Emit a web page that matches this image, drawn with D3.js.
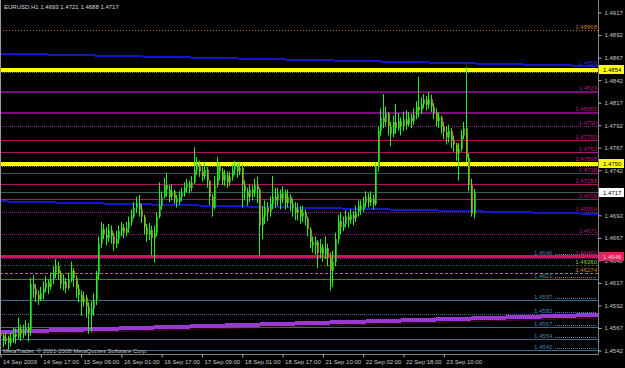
<!DOCTYPE html>
<html>
<head>
<meta charset="utf-8">
<script src="https://cdn.jsdelivr.net/npm/d3@7"></script>
<style>
body { margin: 0; background: #000; }
svg { display: block; }
text { font-family: "Liberation Sans", Arial, sans-serif; font-size: 6px; }
</style>
</head>
<body>
<script>
// EURUSD H1 bars (index 0 = 14 Sep 2009 00:00)
const opens = [1.4560,1.4558,1.4552,1.4556,1.4550,1.4555,1.4560,1.4557,1.4566,1.4560,1.4563,1.4567,1.4562,1.4615,1.4610,1.4603,1.4598,1.4605,1.4610,1.4617,
  1.4612,1.4620,1.4628,1.4635,1.4627,1.4615,1.4618,1.4611,1.4620,1.4630,1.4622,1.4610,1.4603,1.4595,1.4600,1.4590,1.4582,1.4588,1.4598,1.4625,
  1.4660,1.4676,1.4670,1.4666,1.4675,1.4668,1.4660,1.4665,1.4674,1.4678,1.4672,1.4677,1.4684,1.4690,1.4700,1.4705,1.4698,1.4690,1.4678,1.4670,
  1.4675,1.4666,1.4672,1.4690,1.4702,1.4712,1.4725,1.4720,1.4712,1.4718,1.4710,1.4706,1.4712,1.4716,1.4722,1.4727,1.4722,1.4728,1.4742,1.4748,
  1.4740,1.4735,1.4742,1.4730,1.4712,1.4700,1.4725,1.4745,1.4740,1.4730,1.4736,1.4728,1.4734,1.4742,1.4746,1.4740,1.4744,1.4725,1.4718,1.4712,
  1.4720,1.4716,1.4725,1.4720,1.4680,1.4690,1.4700,1.4695,1.4704,1.4712,1.4708,1.4715,1.4710,1.4716,1.4705,1.4712,1.4704,1.4700,1.4694,1.4698,
  1.4690,1.4695,1.4688,1.4676,1.4662,1.4658,1.4662,1.4650,1.4656,1.4648,1.4655,1.4645,1.4630,1.4640,1.4665,1.4685,1.4678,1.4682,1.4690,1.4686,
  1.4692,1.4688,1.4695,1.4702,1.4698,1.4705,1.4712,1.4706,1.4710,1.4704,1.4745,1.4785,1.4800,1.4795,1.4805,1.4790,1.4782,1.4795,1.4788,1.4796,
  1.4790,1.4798,1.4792,1.4800,1.4796,1.4803,1.4812,1.4808,1.4815,1.4820,1.4814,1.4820,1.4812,1.4805,1.4796,1.4800,1.4790,1.4784,1.4778,1.4785,
  1.4775,1.4770,1.4760,1.4765,1.4780,1.4788,1.4755,1.4725,1.4693];
const highs = [1.4565,1.4560,1.4562,1.4558,1.4561,1.4567,1.4566,1.4578,1.4570,1.4570,1.4575,1.4572,1.4622,1.4625,1.4615,1.4608,1.4612,1.4618,1.4624,1.4620,
  1.4628,1.4635,1.4643,1.4640,1.4630,1.4626,1.4622,1.4628,1.4640,1.4633,1.4625,1.4615,1.4608,1.4607,1.4603,1.4595,1.4596,1.4605,1.4630,1.4668,
  1.4684,1.4682,1.4678,1.4682,1.4680,1.4672,1.4674,1.4680,1.4684,1.4682,1.4684,1.4690,1.4698,1.4706,1.4712,1.4714,1.4704,1.4692,1.4682,1.4683,
  1.4680,1.4680,1.4695,1.4728,1.4718,1.4733,1.4738,1.4725,1.4726,1.4720,1.4714,1.4718,1.4722,1.4728,1.4732,1.4730,1.4735,1.4767,1.4756,1.4752,
  1.4745,1.4750,1.4745,1.4730,1.4715,1.4735,1.4756,1.4750,1.4744,1.4742,1.4740,1.4740,1.4748,1.4752,1.4750,1.4750,1.4748,1.4730,1.4722,1.4726,
  1.4725,1.4732,1.4734,1.4722,1.4702,1.4708,1.4706,1.4712,1.4735,1.4722,1.4722,1.4720,1.4724,1.4720,1.4720,1.4715,1.4710,1.4706,1.4705,1.4702,
  1.4702,1.4698,1.4690,1.4678,1.4668,1.4668,1.4664,1.4665,1.4660,1.4668,1.4660,1.4650,1.4652,1.4672,1.4692,1.4695,1.4690,1.4697,1.4695,1.4698,
  1.4696,1.4702,1.4708,1.4708,1.4712,1.4718,1.4716,1.4718,1.4714,1.4750,1.4790,1.4810,1.4826,1.4812,1.4806,1.4795,1.4802,1.4815,1.4805,1.4800,
  1.4806,1.4808,1.4806,1.4804,1.4810,1.4818,1.4845,1.4822,1.4826,1.4824,1.4828,1.4825,1.4816,1.4810,1.4806,1.4802,1.4795,1.4790,1.4792,1.4788,
  1.4780,1.4772,1.4772,1.4786,1.4795,1.4856,1.4760,1.4732,1.4721];
const lows = [1.4548,1.4545,1.4548,1.4542,1.4546,1.4550,1.4549,1.4554,1.4552,1.4555,1.4558,1.4551,1.4558,1.4600,1.4595,1.4592,1.4596,1.4598,1.4606,1.4604,
  1.4609,1.4615,1.4622,1.4620,1.4610,1.4608,1.4605,1.4609,1.4617,1.4612,1.4600,1.4595,1.4580,1.4590,1.4578,1.4560,1.4562,1.4580,1.4592,1.4620,
  1.4655,1.4665,1.4658,1.4662,1.4660,1.4652,1.4655,1.4660,1.4668,1.4666,1.4668,1.4672,1.4680,1.4688,1.4694,1.4690,1.4683,1.4670,1.4662,1.4664,
  1.4647,1.4639,1.4668,1.4688,1.4698,1.4710,1.4712,1.4706,1.4708,1.4704,1.4700,1.4703,1.4707,1.4712,1.4717,1.4716,1.4718,1.4726,1.4736,1.4734,
  1.4729,1.4731,1.4722,1.4703,1.4690,1.4698,1.4722,1.4730,1.4725,1.4724,1.4722,1.4724,1.4730,1.4736,1.4733,1.4736,1.4700,1.4708,1.4702,1.4706,
  1.4708,1.4712,1.4705,1.4647,1.4665,1.4682,1.4685,1.4690,1.4698,1.4700,1.4702,1.4698,1.4705,1.4698,1.4700,1.4696,1.4690,1.4686,1.4686,1.4682,
  1.4684,1.4680,1.4668,1.4655,1.4650,1.4648,1.4633,1.4644,1.4640,1.4643,1.4635,1.4608,1.4612,1.4635,1.4660,1.4670,1.4674,1.4678,1.4678,1.4682,
  1.4680,1.4684,1.4690,1.4692,1.4695,1.4700,1.4700,1.4702,1.4698,1.4702,1.4740,1.4780,1.4788,1.4790,1.4780,1.4768,1.4778,1.4782,1.4785,1.4780,
  1.4785,1.4786,1.4790,1.4788,1.4792,1.4798,1.4800,1.4804,1.4810,1.4808,1.4810,1.4806,1.4798,1.4790,1.4788,1.4782,1.4776,1.4770,1.4772,1.4766,
  1.4762,1.4752,1.4730,1.4762,1.4776,1.4750,1.4718,1.4690,1.4688];
const closes = [1.4558,1.4552,1.4556,1.4550,1.4555,1.4560,1.4557,1.4566,1.4560,1.4563,1.4567,1.4562,1.4615,1.4610,1.4603,1.4598,1.4605,1.4610,1.4617,1.4612,
  1.4620,1.4628,1.4635,1.4627,1.4615,1.4618,1.4611,1.4620,1.4630,1.4622,1.4610,1.4603,1.4595,1.4600,1.4590,1.4582,1.4588,1.4598,1.4625,1.4660,
  1.4676,1.4670,1.4666,1.4675,1.4668,1.4660,1.4665,1.4674,1.4678,1.4672,1.4677,1.4684,1.4690,1.4700,1.4705,1.4698,1.4690,1.4678,1.4670,1.4675,
  1.4666,1.4672,1.4690,1.4702,1.4712,1.4725,1.4720,1.4712,1.4718,1.4710,1.4706,1.4712,1.4716,1.4722,1.4727,1.4722,1.4728,1.4742,1.4748,1.4740,
  1.4735,1.4742,1.4730,1.4712,1.4700,1.4725,1.4745,1.4740,1.4730,1.4736,1.4728,1.4734,1.4742,1.4746,1.4740,1.4744,1.4725,1.4718,1.4712,1.4720,
  1.4716,1.4725,1.4720,1.4680,1.4690,1.4700,1.4695,1.4704,1.4712,1.4708,1.4715,1.4710,1.4716,1.4705,1.4712,1.4704,1.4700,1.4694,1.4698,1.4690,
  1.4695,1.4688,1.4676,1.4662,1.4658,1.4662,1.4650,1.4656,1.4648,1.4655,1.4645,1.4630,1.4640,1.4665,1.4685,1.4678,1.4682,1.4690,1.4686,1.4692,
  1.4688,1.4695,1.4702,1.4698,1.4705,1.4712,1.4706,1.4710,1.4704,1.4745,1.4785,1.4800,1.4795,1.4805,1.4790,1.4782,1.4795,1.4788,1.4796,1.4790,
  1.4798,1.4792,1.4800,1.4796,1.4803,1.4812,1.4808,1.4815,1.4820,1.4814,1.4820,1.4812,1.4805,1.4796,1.4800,1.4790,1.4784,1.4778,1.4785,1.4775,
  1.4770,1.4760,1.4765,1.4780,1.4788,1.4755,1.4725,1.4693,1.4717];

// time axis
const timeTickIdx = [0, 16, 32, 48, 64, 80, 96, 112, 128, 144, 160, 176];
const timeTickText = ["14 Sep 2009", "14 Sep 17:00", "15 Sep 09:00", "16 Sep 01:00", "16 Sep 17:00", "17 Sep 09:00",
  "18 Sep 01:00", "18 Sep 17:00", "21 Sep 10:00", "22 Sep 02:00", "22 Sep 18:00", "23 Sep 10:00"];

// price axis
const priceTicks = [1.4917, 1.4892, 1.4867, 1.4842, 1.4817, 1.4792, 1.4767, 1.4742, 1.4717,
  1.4692, 1.4667, 1.4642, 1.4617, 1.4592, 1.4567, 1.4542];

// horizontal levels, by group
const purpleLevels = [1.4829, 1.48055];
const purpleLabels = ["1.4829", "1.48055"];
const purpleDotLevels = [1.4790, 1.46954, 1.4671];
const purpleDotLabels = ["1.4790", "1.46954", "1.4671"];
const magentaLevels = [1.47750, 1.4762, 1.47506, 1.4738, 1.47258, 1.4709];
const magentaLabels = ["1.47750", "1.4762", "1.47506", "1.4738", "1.47258", "1.4709"];
const steelLevels = [1.4646, 1.4621, 1.4597, 1.4567, 1.4554, 1.4542];
const steelDotLevels = [1.4582];
const yellowLevels = [1.4854, 1.4750];
const pivotLevel = 1.4646, pivotLabel = "1.46460";
const greenLevel = 1.46360, greenLabel = "1.46360";
const orangeDashLevel = 1.46274, orangeDashLabel = "1.46274";
const orangeTopLevel = 1.48968, orangeTopLabel = "1.48968";
const lastPrice = 1.4717;

// trend lines: [bar index, price] end points
const blueUpper = [[-1, 1.4871], [238, 1.4857]];
const blueLower = [[-1, 1.4707], [238, 1.4693]];
const violetRising = [[-1, 1.4562], [238, 1.4581]];

const title = "EURUSD,H1  1.4693 1.4721 1.4688 1.4717";
const watermark = "MetaTrader, \u00a9 2001-2008 MetaQuotes Software Corp.";

const width = 625, height = 368;
const plotRight = 598, plotBottom = 354;

const x = d3.scaleLinear().domain([0, 176]).range([0, 443.3]);
const y = d3.scaleLinear().domain([1.4542, 1.4917]).range([350, 12]);
const fmt = d3.format(".4f");

const svg = d3.select("body").append("svg")
    .attr("width", width)
    .attr("height", height);

svg.append("rect").attr("width", width).attr("height", height).attr("fill", "#000");

svg.append("clipPath").attr("id", "plot")
  .append("rect").attr("x", 0).attr("y", 0).attr("width", plotRight).attr("height", plotBottom);

const plot = svg.append("g").attr("clip-path", "url(#plot)");
const py = p => Math.round(y(p)) + 0.5;

function hline(p, color, w, dash) {
    plot.append("line")
        .attr("x1", 0).attr("x2", plotRight)
        .attr("y1", py(p)).attr("y2", py(p))
        .attr("stroke", color)
        .attr("stroke-width", w)
        .attr("stroke-dasharray", dash || null)
        .attr("shape-rendering", "crispEdges");
}
function rightLabel(p, txt, color) {
    plot.append("text")
        .attr("x", 597).attr("y", py(p) - 2)
        .attr("text-anchor", "end")
        .attr("fill", color)
        .text(txt);
}
function leftLabel(p, color) {
    plot.append("text")
        .attr("x", 534).attr("y", py(p) - 1.5)
        .attr("fill", color)
        .text(fmt(p));
    plot.append("line")
        .attr("x1", 555).attr("x2", 597)
        .attr("y1", py(p) - 2).attr("y2", py(p) - 2)
        .attr("stroke", color).attr("stroke-width", 1)
        .attr("stroke-dasharray", "1,1");
}

// top orange level
hline(orangeTopLevel, "#b8741c", 1, "1,2");
rightLabel(orangeTopLevel, orangeTopLabel, "#c07a20");

// purple / magenta levels
purpleLevels.forEach((p, i) => { hline(p, "#7c0c7c", 2); rightLabel(p, purpleLabels[i], "#b0147a"); });
purpleDotLevels.forEach((p, i) => { hline(p, "#8c1c8c", 1, "1,1"); rightLabel(p, purpleDotLabels[i], "#b0147a"); });
magentaLevels.forEach((p, i) => { hline(p, "#b0106c", 1); rightLabel(p, magentaLabels[i], "#c01480"); });

// steel blue support levels
steelLevels.forEach(p => { hline(p, "#3a6c8e", 1); leftLabel(p, "#4a80aa"); });
steelDotLevels.forEach(p => { hline(p, "#3a6c8e", 1, "1,1"); leftLabel(p, "#4a80aa"); });

// other levels
hline(greenLevel, "#2e6a1e", 1, "2,2");
rightLabel(greenLevel, greenLabel, "#8ccc28");
hline(orangeDashLevel, "#c87800", 1, "3,2");
rightLabel(orangeDashLevel, orangeDashLabel, "#d08010");
hline(lastPrice, "#4a5656", 1);

plot.append("line")
    .attr("x1", 0).attr("x2", plotRight)
    .attr("y1", py(pivotLevel) + 2).attr("y2", py(pivotLevel) + 2)
    .attr("stroke", "#5a30a0").attr("stroke-dasharray", "1,1");
hline(pivotLevel, "#d0145a", 3);
rightLabel(pivotLevel, pivotLabel, "#c01480");

// trend lines
function trend(pts, color, w) {
    plot.append("line")
        .attr("x1", x(pts[0][0])).attr("y1", y(pts[0][1]))
        .attr("x2", x(pts[1][0])).attr("y2", y(pts[1][1]))
        .attr("stroke", color).attr("stroke-width", w)
        .attr("shape-rendering", "crispEdges");
}
trend(blueUpper, "#1414c8", 2);
plot.append("text").attr("x", 597).attr("y", y(1.4857) - 1)
    .attr("text-anchor", "end").attr("fill", "#2a2ad8").text("1.4856");
trend(blueLower, "#1414c8", 2);
plot.append("line")
    .attr("x1", x(violetRising[0][0])).attr("y1", y(violetRising[0][1]) + 3)
    .attr("x2", x(violetRising[1][0])).attr("y2", y(violetRising[1][1]) + 3)
    .attr("stroke", "#a01050").attr("stroke-dasharray", "1,1");
trend(violetRising, "#9a38d4", 4);

// yellow levels
yellowLevels.forEach(p => {
    plot.append("line")
        .attr("x1", 0).attr("x2", plotRight)
        .attr("y1", py(p) + 3).attr("y2", py(p) + 3)
        .attr("stroke", "#8a8a00").attr("stroke-dasharray", "1,1");
    hline(p, "#ffff00", 4);
});

// candles: coloured body, lime wick drawn over its left half
const bars = closes.map((c, i) => ({ i, o: opens[i], h: highs[i], l: lows[i], c }));
const candle = plot.append("g").selectAll("g")
    .data(bars)
    .join("g");

candle.append("rect")
    .attr("x", d => Math.round(x(d.i)))
    .attr("width", 2)
    .attr("y", d => y(Math.max(d.o, d.c)))
    .attr("height", d => Math.max(1, Math.abs(y(d.o) - y(d.c))))
    .attr("fill", d => d.c >= d.o ? "#1f9e1f" : "#c0641a");

candle.append("line")
    .attr("x1", d => Math.round(x(d.i)) + 0.5)
    .attr("x2", d => Math.round(x(d.i)) + 0.5)
    .attr("y1", d => y(d.h))
    .attr("y2", d => y(d.l))
    .attr("stroke", "#22f022");

// frame
svg.append("line").attr("x1", 0.5).attr("x2", 0.5).attr("y1", 0).attr("y2", plotBottom)
    .attr("stroke", "#9a9a9a");
svg.append("line").attr("x1", plotRight + 0.5).attr("x2", plotRight + 0.5).attr("y1", 0).attr("y2", plotBottom + 0.5)
    .attr("stroke", "#808080");
svg.append("line").attr("x1", 0).attr("x2", plotRight + 0.5).attr("y1", plotBottom + 0.5).attr("y2", plotBottom + 0.5)
    .attr("stroke", "#808080");

// price axis
const yAxis = svg.append("g")
    .attr("transform", `translate(${plotRight + 0.5},0.5)`)
    .call(d3.axisRight(y).tickValues(priceTicks).tickFormat(fmt).tickSize(3).tickPadding(3));
yAxis.select(".domain").remove();
yAxis.selectAll("line").attr("stroke", "#b0b0b0");
yAxis.selectAll("text").attr("fill", "#c8c8c8").attr("font-size", 6).attr("font-family", null);

// price boxes on the axis
function priceBox(p, bg, fg) {
    svg.append("rect")
        .attr("x", plotRight + 1).attr("y", Math.round(y(p)) - 4)
        .attr("width", 25).attr("height", 9)
        .attr("fill", bg);
    svg.append("text")
        .attr("x", plotRight + 5).attr("y", Math.round(y(p)) + 2.5)
        .attr("fill", fg)
        .text(fmt(p));
}
priceBox(yellowLevels[0], "#ffff00", "#000");
priceBox(yellowLevels[1], "#ffff00", "#000");
priceBox(lastPrice, "#ffffff", "#000");
priceBox(pivotLevel, "#e0245e", "#f4c8d8");

// time axis
const xAxis = svg.append("g")
    .attr("transform", `translate(0.5,${plotBottom + 0.5})`)
    .call(d3.axisBottom(x).tickValues(timeTickIdx).tickFormat((d, i) => timeTickText[i]).tickSize(3).tickPadding(2));
xAxis.select(".domain").remove();
xAxis.selectAll("line").attr("stroke", "#b0b0b0");
xAxis.selectAll("text")
    .attr("text-anchor", "start")
    .attr("x", 2)
    .attr("fill", "#c8c8c8").attr("font-size", 6).attr("font-family", null);

// title and watermark
svg.append("text").attr("x", 4).attr("y", 9).attr("fill", "#d8d8d8").text(title);
svg.append("text").attr("x", 3).attr("y", 353).attr("fill", "#c0c0c0").text(watermark);
</script>
</body>
</html>
